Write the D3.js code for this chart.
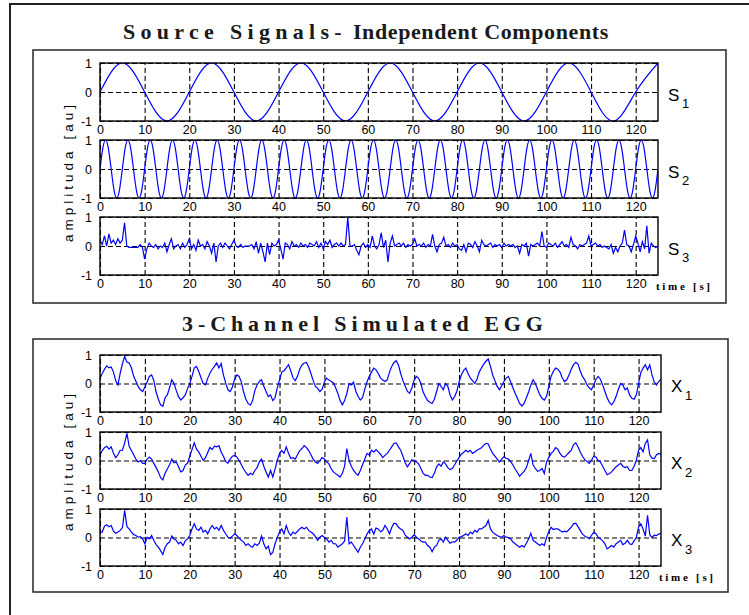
<!DOCTYPE html>
<html>
<head>
<meta charset="utf-8">
<script src="https://cdnjs.cloudflare.com/ajax/libs/d3/7.8.5/d3.min.js"></script>
<style>
  body { margin: 0; background: #fff; }
  svg { display: block; }
</style>
</head>
<body>
<div id="chart"></div>
<script>
// time ticks shown under every plot
const timeTicks = [0, 10, 20, 30, 40, 50, 60, 70, 80, 90, 100, 110, 120];
const ampTicks = [-1, 0, 1];

// S1 read at every quarter period, S2 at every eighth period
const s1Step = 5;
const s1 = [0, 1, 0, -1, 0, 1, 0, -1, 0, 1, 0, -1, 0, 1, 0, -1, 0, 1, 0, -1, 0, 1, 0, -1, 0, 1];
const s2Step = 0.625;
const s2 = [
  0, 0.71, 1, 0.71, 0, -0.71, -1, -0.71, 0, 0.71, 1, 0.71, 0, -0.71, -1, -0.71,
  0, 0.71, 1, 0.71, 0, -0.71, -1, -0.71, 0, 0.71, 1, 0.71, 0, -0.71, -1, -0.71,
  0, 0.71, 1, 0.71, 0, -0.71, -1, -0.71, 0, 0.71, 1, 0.71, 0, -0.71, -1, -0.71,
  0, 0.71, 1, 0.71, 0, -0.71, -1, -0.71, 0, 0.71, 1, 0.71, 0, -0.71, -1, -0.71,
  0, 0.71, 1, 0.71, 0, -0.71, -1, -0.71, 0, 0.71, 1, 0.71, 0, -0.71, -1, -0.71,
  0, 0.71, 1, 0.71, 0, -0.71, -1, -0.71, 0, 0.71, 1, 0.71, 0, -0.71, -1, -0.71,
  0, 0.71, 1, 0.71, 0, -0.71, -1, -0.71, 0, 0.71, 1, 0.71, 0, -0.71, -1, -0.71,
  0, 0.71, 1, 0.71, 0, -0.71, -1, -0.71, 0, 0.71, 1, 0.71, 0, -0.71, -1, -0.71,
  0, 0.71, 1, 0.71, 0, -0.71, -1, -0.71, 0, 0.71, 1, 0.71, 0, -0.71, -1, -0.71,
  0, 0.71, 1, 0.71, 0, -0.71, -1, -0.71, 0, 0.71, 1, 0.71, 0, -0.71, -1, -0.71,
  0, 0.71, 1, 0.71, 0, -0.71, -1, -0.71, 0, 0.71, 1, 0.71, 0, -0.71, -1, -0.71,
  0, 0.71, 1, 0.71, 0, -0.71, -1, -0.71, 0, 0.71, 1, 0.71, 0, -0.71, -1, -0.71,
  0, 0.71, 1, 0.71, 0, -0.71, -1, -0.71, 0];

// noisy traces read every 0.5 s
const noiseStep = 0.5;
const s3 = [
  0.2, 0.05, 0.35, 0.0, 0.42, 0.1, 0.2, 0.05, 0.25, 0.1,
  0.2, 0.8, 0.0, -0.05, -0.05, -0.05, -0.05, -0.05, 0.05, -0.05,
  -0.45, -0.1, 0.1, 0.0, -0.05, 0.05, -0.1, 0.0, -0.05, 0.1,
  -0.2, 0.05, 0.25, -0.1, 0.0, 0.05, -0.1, 0.1, -0.05, 0.05,
  0.25, -0.1, 0.05, -0.15, 0.2, 0.0, 0.05, -0.1, 0.15, 0.0,
  -0.25, 0.1, -0.55, 0.0, 0.1, -0.05, 0.1, 0.0, -0.1, 0.05,
  0.2, 0.0, -0.05, 0.05, -0.05, 0.0, 0.0, 0.0, 0.05, -0.1,
  0.15, -0.25, 0.1, -0.2, -0.55, 0.1, -0.3, 0.1, 0.0, 0.05,
  0.2, -0.1, -0.45, 0.1, 0.05, -0.1, 0.15, 0.0, 0.05, -0.05,
  0.1, 0.0, 0.05, -0.05, 0.1, 0.05, 0.0, 0.15, -0.05, 0.1,
  -0.1, 0.15, 0.05, 0.2, -0.05, 0.05, 0.1, 0.0, 0.1, 0.0,
  0.05, 1.0, 0.0, 0.0, 0.05, -0.15, -0.3, 0.0, 0.1, -0.05,
  0.05, -0.05, 0.35, 0.0, -0.1, 0.05, 0.45, -0.05, 0.2, -0.55,
  0.1, 0.35, 0.0, 0.05, 0.1, 0.0, 0.1, -0.05, 0.05, 0.0,
  0.05, 0.25, 0.0, 0.05, 0.0, 0.1, -0.05, 0.05, 0.0, 0.4,
  0.0, -0.2, 0.05, 0.1, 0.3, 0.0, 0.05, -0.05, 0.1, 0.0,
  0.05, -0.1, -0.15, 0.05, -0.2, 0.1, 0.05, -0.05, 0.15, 0.0,
  -0.2, 0.2, 0.05, 0.0, 0.05, 0.1, -0.05, 0.05, 0.0, 0.05,
  -0.05, 0.1, 0.0, 0.05, 0.0, 0.05, -0.05, 0.0, -0.25, 0.05,
  0.0, 0.1, -0.35, 0.05, 0.0, 0.05, 0.1, 0.0, 0.5, 0.0,
  -0.05, 0.1, 0.05, 0.0, 0.1, -0.05, 0.05, 0.15, 0.0, 0.05,
  -0.05, 0.3, 0.05, 0.0, -0.1, 0.05, 0.0, 0.05, 0.1, 0.35,
  0.0, 0.05, 0.1, 0.0, 0.05, -0.05, 0.0, -0.05, -0.1, 0.05,
  -0.25, -0.05, -0.2, 0.0, 0.1, 0.55, 0.05, 0.0, -0.2, 0.05,
  0.35, 0.1, -0.2, 0.15, -0.1, 0.7, -0.25, 0.1, 0.0, -0.05,
  0.0];

const x1 = [
  0.18, 0.35, 0.5, 0.62, 0.55, 0.58, 0.4, 0.1, -0.05, 0.36,
  0.7, 0.95, 0.75, 0.72, 0.55, 0.25, 0.08, -0.1, -0.22, -0.28,
  -0.12, 0.05, 0.25, 0.3, 0.1, -0.3, -0.55, -0.75, -0.8, -0.5,
  -0.4, -0.15, 0.13, 0.0, -0.25, -0.46, -0.58, -0.5, -0.4, -0.18,
  0.0, 0.25, 0.55, 0.6, 0.42, 0.2, 0.0, -0.05, 0.18, 0.36,
  0.5, 0.6, 0.72, 0.55, 0.7, 0.3, 0.02, -0.22, -0.28, -0.12,
  0.15, 0.3, 0.25, 0.05, -0.3, -0.55, -0.7, -0.76, -0.6, -0.25,
  -0.05, 0.07, 0.13, -0.1, -0.28, -0.46, -0.4, -0.6, -0.5, -0.15,
  0.13, 0.4, 0.45, 0.55, 0.66, 0.45, 0.2, 0.1, 0.25, 0.5,
  0.65, 0.72, 0.74, 0.58, 0.35, 0.1, -0.1, -0.17, -0.28, -0.2,
  0.05, 0.19, 0.12, 0.08, 0.02, -0.15, -0.35, -0.6, -0.75, -0.6,
  -0.35, 0.0, -0.05, 0.05, -0.28, -0.45, -0.58, -0.5, -0.2, 0.06,
  0.25, 0.4, 0.54, 0.48, 0.35, 0.2, 0.12, 0.07, 0.13, 0.4,
  0.6, 0.74, 0.8, 0.65, 0.35, 0.1, -0.1, -0.28, -0.34, -0.15,
  0.12, 0.25, 0.18, 0.0, -0.3, -0.46, -0.6, -0.66, -0.7, -0.55,
  -0.28, 0.0, -0.1, -0.22, 0.0, -0.1, -0.4, -0.58, -0.46, -0.28,
  0.05, 0.3, 0.45, 0.54, 0.35, 0.2, 0.1, 0.0, 0.15, 0.4,
  0.55, 0.68, 0.78, 0.86, 0.6, 0.3, 0.1, -0.1, -0.22, -0.08,
  0.07, 0.19, 0.25, 0.05, -0.15, -0.34, -0.52, -0.7, -0.79, -0.7,
  -0.5, -0.3, -0.05, 0.13, 0.0, -0.2, -0.4, -0.52, -0.58, -0.45,
  -0.1, 0.25, 0.42, 0.54, 0.5, 0.4, 0.2, 0.07, 0.13, 0.3,
  0.5, 0.66, 0.74, 0.68, 0.45, 0.25, 0.13, -0.05, -0.15, -0.22,
  -0.05, 0.15, 0.25, 0.15, -0.05, -0.28, -0.5, -0.66, -0.75, -0.64,
  -0.45, -0.2, 0.0, -0.05, -0.22, -0.16, -0.4, -0.52, -0.55, -0.4,
  0.0, 0.38, 0.54, 0.66, 0.48, 0.65, 0.3, 0.05, -0.05, 0.07,
  0.15];

const x2 = [
  0.19, 0.35, 0.45, 0.5, 0.4, 0.48, 0.25, 0.1, 0.2, 0.36,
  0.36, 0.62, 0.95, 0.5, 0.35, 0.2, 0.05, -0.05, 0.0, -0.1,
  -0.1, 0.05, 0.12, 0.05, -0.1, -0.25, -0.4, -0.6, -0.68, -0.45,
  -0.3, -0.15, 0.05, -0.08, -0.05, -0.22, -0.4, -0.35, -0.16, -0.1,
  0.15, 0.38, 0.62, 0.4, 0.3, 0.15, 0.0, 0.1, 0.28, 0.46,
  0.38, 0.5, 0.48, 0.52, 0.3, 0.15, -0.03, -0.1, 0.05, 0.15,
  0.18, 0.12, 0.0, -0.15, -0.3, -0.42, -0.52, -0.45, -0.5, -0.35,
  -0.25, -0.05, 0.05, -0.2, -0.4, -0.58, -0.35, -0.58, -0.3, 0.0,
  0.25, 0.35, 0.25, 0.48, 0.25, 0.08, 0.1, 0.05, 0.2, 0.35,
  0.42, 0.52, 0.45, 0.35, 0.2, 0.05, -0.05, -0.1, 0.0, 0.1,
  0.05, -0.05, -0.12, -0.28, -0.4, -0.46, -0.52, -0.58, -0.45, -0.2,
  0.42, 0.0, -0.2, -0.35, -0.45, -0.52, -0.35, -0.15, 0.05, 0.25,
  0.19, 0.36, 0.3, 0.38, 0.3, 0.22, 0.1, 0.18, 0.25, 0.36,
  0.48, 0.6, 0.62, 0.48, 0.36, 0.15, -0.08, -0.22, -0.1, 0.03,
  0.0, -0.05, -0.12, -0.28, -0.45, -0.52, -0.52, -0.58, -0.6, -0.45,
  -0.22, -0.12, -0.2, -0.05, -0.12, -0.25, -0.32, -0.28, -0.16, -0.02,
  0.1, 0.22, 0.28, 0.36, 0.3, 0.36, 0.25, 0.3, 0.36, 0.4,
  0.45, 0.54, 0.6, 0.58, 0.4, 0.25, 0.15, 0.05, -0.05, 0.05,
  0.13, 0.08, 0.05, -0.03, -0.16, -0.3, -0.42, -0.55, -0.46, -0.38,
  -0.25, 0.0, 0.25, -0.16, -0.28, -0.38, -0.35, -0.28, -0.46, -0.05,
  0.1, 0.25, 0.32, 0.45, 0.4, 0.25, 0.15, 0.12, 0.2, 0.28,
  0.36, 0.55, 0.62, 0.48, 0.3, 0.15, 0.03, -0.03, -0.1, 0.0,
  0.15, 0.12, 0.0, -0.05, -0.2, -0.35, -0.5, -0.46, -0.4, -0.3,
  -0.22, -0.16, -0.1, -0.2, -0.25, -0.22, -0.35, -0.35, -0.2, 0.0,
  0.36, 0.45, 0.3, 0.6, 0.72, 0.2, 0.08, 0.07, 0.2, 0.25,
  0.22];

const x3 = [
  0.19, 0.19, 0.4, 0.45, 0.38, 0.42, 0.22, 0.15, 0.19, 0.25,
  0.35, 0.95, 0.38, 0.3, 0.19, 0.1, 0.07, 0.01, 0.03, -0.05,
  -0.22, 0.01, -0.05, 0.07, -0.1, -0.25, -0.34, -0.46, -0.6, -0.35,
  -0.22, -0.16, 0.05, -0.05, -0.1, -0.22, -0.16, -0.28, -0.12, -0.05,
  0.07, 0.3, 0.48, 0.3, 0.25, 0.36, 0.19, 0.25, 0.13, 0.3,
  0.42, 0.3, 0.36, 0.25, 0.42, 0.25, 0.13, 0.01, -0.02, 0.05,
  0.13, 0.07, -0.02, -0.1, -0.16, -0.28, -0.22, -0.3, -0.34, -0.22,
  -0.28, -0.2, 0.05, -0.22, -0.4, -0.3, -0.6, -0.52, -0.22, 0.0,
  0.19, 0.3, 0.13, 0.42, 0.19, 0.07, 0.19, 0.13, 0.22, 0.3,
  0.36, 0.3, 0.36, 0.25, 0.19, 0.13, 0.03, -0.1, 0.01, 0.07,
  0.0, -0.05, -0.16, -0.1, -0.22, -0.22, -0.34, -0.28, -0.22, -0.12,
  0.72, -0.22, -0.16, -0.28, -0.4, -0.52, -0.34, -0.22, -0.05, 0.12,
  0.25, 0.3, 0.12, 0.33, 0.3, 0.2, 0.25, 0.42, 0.3, 0.13,
  0.35, 0.5, 0.48, 0.36, 0.3, 0.25, 0.08, 0.01, -0.05, 0.01,
  0.1, 0.01, -0.05, -0.12, -0.16, -0.16, -0.28, -0.34, -0.5, -0.34,
  -0.28, -0.1, -0.05, -0.16, 0.01, -0.1, -0.2, -0.15, -0.16, -0.1,
  0.01, 0.03, 0.07, 0.13, 0.07, 0.19, 0.13, 0.25, 0.19, 0.3,
  0.3, 0.36, 0.42, 0.6, 0.3, 0.19, 0.12, 0.07, 0.03, 0.01,
  0.07, 0.01, 0.0, -0.05, -0.16, -0.22, -0.28, -0.34, -0.28, -0.34,
  -0.2, -0.05, 0.15, -0.1, -0.16, -0.22, -0.28, -0.22, -0.28, 0.0,
  0.2, 0.36, 0.28, 0.3, 0.3, 0.25, 0.19, 0.22, 0.2, 0.28,
  0.36, 0.48, 0.5, 0.38, 0.25, 0.12, 0.05, 0.01, -0.04, 0.07,
  0.18, 0.13, 0.01, -0.05, -0.12, -0.22, -0.4, -0.34, -0.28, -0.34,
  -0.22, -0.16, -0.1, -0.25, -0.2, -0.1, -0.22, -0.25, -0.12, 0.0,
  0.36, 0.48, 0.3, 0.05, 0.78, 0.1, 0.0, 0.08, 0.07, 0.12,
  0.15];

const width = 749, height = 615;

const svg = d3.select('#chart')
    .append('svg')
    .attr('width', width)
    .attr('height', height);

// outer frame (runs off the right / bottom edge)
svg.append('rect')
    .attr('x', 10).attr('y', 4)
    .attr('width', 780).attr('height', 660)
    .attr('fill', 'none')
    .attr('stroke', '#222')
    .attr('stroke-width', 2);

const panels = [
    {
        box: [33, 50, 726, 303],
        left: 100, right: 658, tops: [63, 140, 217], h: 58,
        series: [
            { name: 'S', sub: '1', values: s1, step: s1Step, smooth: true },
            { name: 'S', sub: '2', values: s2, step: s2Step, smooth: true },
            { name: 'S', sub: '3', values: s3, step: noiseStep, smooth: false }
        ]
    },
    {
        box: [33, 339, 728, 592],
        left: 100, right: 661, tops: [355, 432, 509], h: 57,
        series: [
            { name: 'X', sub: '1', values: x1, step: noiseStep, smooth: false },
            { name: 'X', sub: '2', values: x2, step: noiseStep, smooth: false },
            { name: 'X', sub: '3', values: x3, step: noiseStep, smooth: false }
        ]
    }
];

// titles
const t1 = svg.append('text')
    .attr('x', 123).attr('y', 39)
    .attr('font-family', "'Liberation Serif', 'Times New Roman', serif")
    .attr('font-weight', 'bold')
    .attr('font-size', 22)
    .attr('fill', '#1a1a1a');
t1.append('tspan').attr('letter-spacing', 5.3).text('Source Signals-');
t1.append('tspan').attr('dx', 6).attr('letter-spacing', 0.6).text('Independent Components');

svg.append('text')
    .attr('x', 182).attr('y', 331)
    .attr('font-family', "'Liberation Serif', 'Times New Roman', serif")
    .attr('font-weight', 'bold')
    .attr('font-size', 22)
    .attr('letter-spacing', 4.9)
    .attr('fill', '#1a1a1a')
    .text('3-Channel Simulated EGG');

let clipId = 0;

panels.forEach(p => {
    const [bx0, by0, bx1, by1] = p.box;
    svg.append('rect')
        .attr('x', bx0).attr('y', by0)
        .attr('width', bx1 - bx0).attr('height', by1 - by0)
        .attr('fill', 'none')
        .attr('stroke', '#333')
        .attr('stroke-width', 1.6);

    // y label
    svg.append('text')
        .attr('transform', `translate(73,${(by0 + by1) / 2 - 5}) rotate(-90)`)
        .attr('text-anchor', 'middle')
        .attr('font-family', 'Arial, sans-serif')
        .attr('font-size', 13.5)
        .attr('letter-spacing', 4)
        .text('amplituda [au]');

    const x = d3.scaleLinear().domain([0, 125]).range([p.left, p.right]);
    const w = p.right - p.left;

    p.series.forEach((s, k) => {
        const top = p.tops[k];
        const y = d3.scaleLinear().domain([-1, 1]).range([top + p.h, top]);
        const g = svg.append('g');

        const xAxis = g.append('g')
            .attr('transform', `translate(0,${top + p.h})`)
            .call(d3.axisBottom(x).tickValues(timeTicks).tickSize(-p.h).tickPadding(4.5)
                .tickFormat(d3.format('d')));
        const yAxis = g.append('g')
            .attr('transform', `translate(${p.left},0)`)
            .call(d3.axisLeft(y).tickValues(ampTicks).tickSize(-w).tickPadding(8)
                .tickFormat(d3.format('d')));

        [xAxis, yAxis].forEach(a => {
            a.select('.domain').remove();
            a.selectAll('line')
                .attr('stroke', '#000')
                .attr('stroke-width', 1.1)
                .attr('stroke-dasharray', '5,3');
            a.selectAll('text')
                .attr('font-family', "'Liberation Sans Narrow', Arial, sans-serif")
                .attr('font-size', 12.5)
                .attr('fill', '#000');
        });
        yAxis.selectAll('text').text(d => d < 0 ? '-1' : d);

        const id = 'clip' + (clipId++);
        g.append('clipPath').attr('id', id)
            .append('rect')
            .attr('x', p.left).attr('y', top)
            .attr('width', w).attr('height', p.h);

        const line = d3.line()
            .x((d, i) => x(i * s.step))
            .y(d => y(d))
            .curve(s.smooth ? d3.curveNatural : d3.curveLinear);

        g.append('path')
            .datum(s.values)
            .attr('clip-path', `url(#${id})`)
            .attr('d', line)
            .attr('fill', 'none')
            .attr('stroke', '#0000ff')
            .attr('stroke-width', 1.2);

        g.append('rect')
            .attr('x', p.left).attr('y', top)
            .attr('width', w).attr('height', p.h)
            .attr('fill', 'none')
            .attr('stroke', '#000')
            .attr('stroke-width', 1.4);

        // series label, e.g. S1 with subscript
        const cy = top + p.h / 2;
        g.append('text')
            .attr('x', p.right + 10).attr('y', cy + 8.5)
            .attr('font-family', 'Arial, sans-serif')
            .attr('font-size', 17)
            .text(s.name);
        g.append('text')
            .attr('x', p.right + 24).attr('y', cy + 16)
            .attr('font-family', 'Arial, sans-serif')
            .attr('font-size', 13)
            .text(s.sub);

        if (k === p.series.length - 1) {
            g.append('text')
                .attr('x', p.right - 2).attr('y', top + p.h + 15)
                .attr('font-family', "'Liberation Serif', 'Times New Roman', serif")
                .attr('font-weight', 'bold')
                .attr('font-size', 11)
                .attr('letter-spacing', 2.7)
                .text('time [s]');
        }
    });
});
</script>
</body>
</html>
